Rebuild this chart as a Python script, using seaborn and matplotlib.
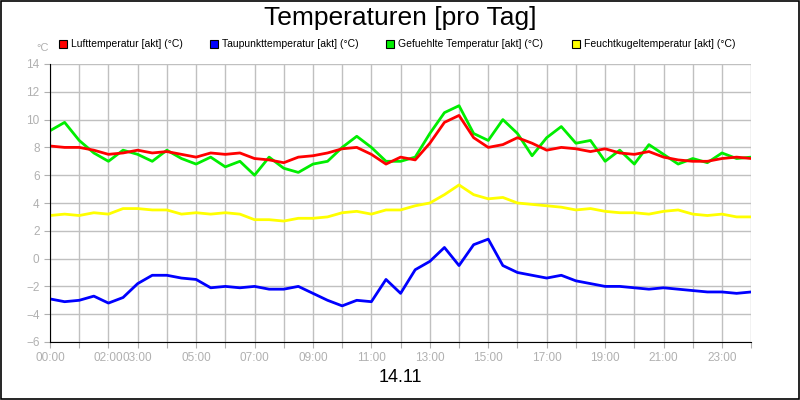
import matplotlib
matplotlib.use("Agg")
import matplotlib.pyplot as plt
import seaborn as sns
import pandas as pd
from matplotlib.patches import Rectangle

plt.rcParams["font.family"] = "Liberation Sans"

hours = [i * 0.5 for i in range(49)]
luft = [8.1,8.0,8.0,7.8,7.5,7.6,7.8,7.6,7.7,7.5,7.3,7.6,7.5,7.6,7.2,7.1,6.9,7.3,7.4,7.6,7.9,8.0,7.5,6.8,7.3,7.1,8.3,9.8,10.3,8.7,8.0,8.2,8.7,8.3,7.8,8.0,7.9,7.7,7.9,7.6,7.5,7.7,7.3,7.1,7.0,7.0,7.2,7.3,7.2]
taupunkt = [-2.9,-3.1,-3.0,-2.7,-3.2,-2.8,-1.8,-1.2,-1.2,-1.4,-1.5,-2.1,-2.0,-2.1,-2.0,-2.2,-2.2,-2.0,-2.5,-3.0,-3.4,-3.0,-3.1,-1.5,-2.5,-0.8,-0.2,0.8,-0.5,1.0,1.4,-0.5,-1.0,-1.2,-1.4,-1.2,-1.6,-1.8,-2.0,-2.0,-2.1,-2.2,-2.1,-2.2,-2.3,-2.4,-2.4,-2.5,-2.4]
gefuehlt = [9.2,9.8,8.5,7.6,7.0,7.8,7.5,7.0,7.8,7.2,6.8,7.3,6.6,7.0,6.0,7.3,6.5,6.2,6.8,7.0,8.0,8.8,8.0,7.0,7.0,7.3,9.0,10.5,11.0,9.0,8.5,10.0,9.0,7.4,8.7,9.5,8.3,8.5,7.0,7.8,6.8,8.2,7.5,6.8,7.2,6.9,7.6,7.2,7.3]
feucht = [3.1,3.2,3.1,3.3,3.2,3.6,3.6,3.5,3.5,3.2,3.3,3.2,3.3,3.2,2.8,2.8,2.7,2.9,2.9,3.0,3.3,3.4,3.2,3.5,3.5,3.8,4.0,4.6,5.3,4.6,4.3,4.4,4.0,3.9,3.8,3.7,3.5,3.6,3.4,3.3,3.3,3.2,3.4,3.5,3.2,3.1,3.2,3.0,3.0]
names = ["Lufttemperatur [akt] (°C)", "Taupunkttemperatur [akt] (°C)",
         "Gefuehlte Temperatur [akt] (°C)", "Feuchtkugeltemperatur [akt] (°C)"]
colors = ["#ff0000", "#0000ff", "#00ee00", "#ffff00"]
tick_pos = [0, 2, 3, 5, 7, 9, 11, 13, 15, 17, 19, 21, 23]
tick_lab = ["00:00", "02:00", "03:00", "05:00", "07:00", "09:00", "11:00", "13:00", "15:00", "17:00", "19:00", "21:00", "23:00"]

df = pd.DataFrame({"h": hours, names[0]: luft, names[1]: taupunkt, names[2]: gefuehlt, names[3]: feucht})
long = df.melt(id_vars="h", var_name="s", value_name="v")

fig = plt.figure(figsize=(8, 4), dpi=100)
ax = fig.add_axes([0.0625, 0.145, 0.8765, 0.695])
draw_order = [names[3], names[1], names[2], names[0]]
for n in draw_order:
    sns.lineplot(data=long[long.s == n], x="h", y="v", color=colors[names.index(n)], lw=2, ax=ax, legend=False)
ax.set_xlim(0, 24)
ax.set_ylim(-6, 14)
ax.set_yticks(range(-6, 15, 2))
ax.set_xticks(range(0, 25))
ax.set_xticklabels([tick_lab[tick_pos.index(i)] if i in tick_pos else "" for i in range(25)])
ax.grid(True, color="#c0c0c0", lw=1)
ax.set_axisbelow(True)
ax.tick_params(colors="#b0b0b0", labelcolor="#b0b0b0", labelsize=8.5, length=4)
for s in ["top", "right"]:
    ax.spines[s].set_visible(False)
for s in ["left", "bottom"]:
    ax.spines[s].set_color("black")
ax.set_xlabel(""); ax.set_ylabel("")
fig.text(0.5, 0.955, "Temperaturen [pro Tag]", ha="center", va="center", fontsize=19)
fig.text(0.5, 0.055, "14.11", ha="center", va="center", fontsize=13)
fig.text(0.045, 0.88, "°C", ha="left", va="center", fontsize=8, color="#b0b0b0")
lx = [59, 210, 386, 572]
for x, n, c in zip(lx, names, colors):
    fig.patches.append(Rectangle((x / 800, 1 - 48 / 400), 8 / 800, 8 / 400, transform=fig.transFigure,
                                 facecolor=c, edgecolor="black", lw=0.8))
    fig.text((x + 12) / 800, 1 - 44 / 400, n, ha="left", va="center", fontsize=7.5)
fig.patches.append(Rectangle((0.001, 0.002), 0.998, 0.996, transform=fig.transFigure,
                             fill=False, edgecolor="black", lw=1.2))
fig.savefig("out.png", dpi=100)
